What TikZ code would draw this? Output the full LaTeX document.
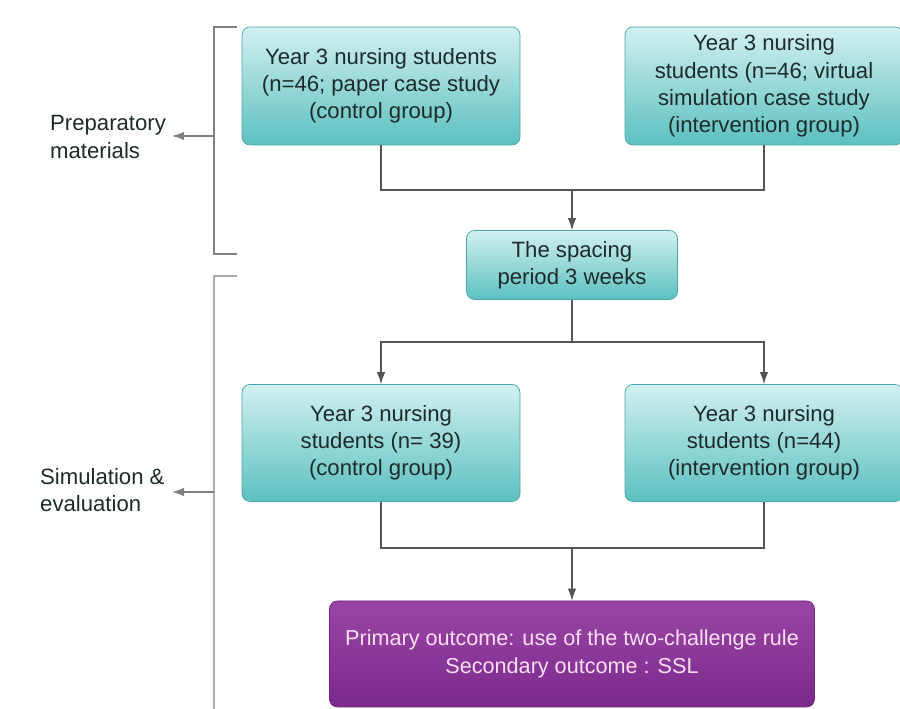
\documentclass[tikz,border=0pt]{standalone}
\usepackage{fontspec}
\setmainfont{Liberation Sans}
\usetikzlibrary{positioning,arrows.meta}
\definecolor{tealtop}{HTML}{D2F0F0}
\definecolor{tealbot}{HTML}{5CC0C0}
\definecolor{tealline}{HTML}{4AA5A8}
\definecolor{purptop}{HTML}{9A45A5}
\definecolor{purpbot}{HTML}{7A2A8C}
\definecolor{purpline}{HTML}{6A2478}
\definecolor{inktext}{HTML}{1E2A2A}
\definecolor{wire}{HTML}{555555}
\definecolor{brace}{HTML}{808080}
\begin{document}
\begin{tikzpicture}[>={Latex[length=2.4mm,width=1.7mm]},
  font=\fontsize{12.6}{15.5}\selectfont,
  group/.style={draw=tealline,rounded corners=0.16cm,top color=tealtop,
    bottom color=tealbot,text=inktext,align=center,minimum width=5.56cm,
    minimum height=2.36cm,inner sep=2pt},
  outcome/.style={draw=purpline,rounded corners=0.16cm,top color=purptop,
    bottom color=purpbot,text=white!88!magenta,align=center,
    minimum width=9.7cm,minimum height=2.12cm,
    font=\fontsize{12.3}{15.5}\selectfont},
  wire/.style={draw=wire,line width=0.6pt},
  bracket/.style={draw=brace,line width=0.7pt}]
  \useasboundingbox (0,0) rectangle (18,14.18);
  % boxes
  \node[group] (ctrlA) at (7.62,12.46)
    {Year 3 nursing students\\(n=46; paper case study\\(control group)};
  \node[group] (intA) at (15.28,12.46)
    {Year 3 nursing\\students (n=46; virtual\\simulation case study\\(intervention group)};
  \node[group,minimum width=4.22cm,minimum height=1.38cm] (space) at (11.44,8.88)
    {The spacing\\period 3 weeks};
  \node[group,minimum height=2.34cm] (ctrlB) at (7.62,5.32)
    {Year 3 nursing\\students (n= 39)\\(control group)};
  \node[group,minimum height=2.34cm] (intB) at (15.28,5.32)
    {Year 3 nursing\\students (n=44)\\(intervention group)};
  \node[outcome] (out) at (11.44,1.1)
    {Primary outcome: use of the two-challenge rule\\Secondary outcome : SSL};
  % joins
  \coordinate (joinA) at (11.44,10.38);
  \coordinate (joinB) at (11.44,7.34);
  \coordinate (joinC) at (11.44,3.22);
  \draw[wire] (ctrlA.south) |- (joinA) -| (intA.south);
  \draw[wire,->] (joinA) -- (space.north);
  \draw[wire] (space.south) -- (joinB);
  \draw[wire,->] (joinB) -| (ctrlB.north);
  \draw[wire,->] (joinB) -| (intB.north);
  \draw[wire] (ctrlB.south) |- (joinC) -| (intB.south);
  \draw[wire,->] (joinC) -- (out.north);
  % phase brackets
  \coordinate (prepTop) at (4.74,13.64);
  \coordinate (prepBot) at (4.74,9.1);
  \coordinate (prepMid) at (4.28,11.46);
  \coordinate (simTop) at (4.74,8.66);
  \coordinate (simBot) at (4.28,0);
  \coordinate (simMid) at (4.28,4.34);
  \draw[bracket] (prepTop) -- ++(-0.46,0) |- (prepBot);
  \draw[bracket] (simTop) -- ++(-0.46,0) -- (simBot);
  \node[align=left,anchor=west,text=inktext] (prep) at (0.88,11.44)
    {Preparatory\\materials};
  \node[align=left,anchor=west,text=inktext] (sim) at (0.68,4.38)
    {Simulation \&\\evaluation};
  \draw[bracket,->] (prepMid) -- (3.44,11.46);
  \draw[bracket,->] (simMid) -- (3.44,4.34);
\end{tikzpicture}
\end{document}
